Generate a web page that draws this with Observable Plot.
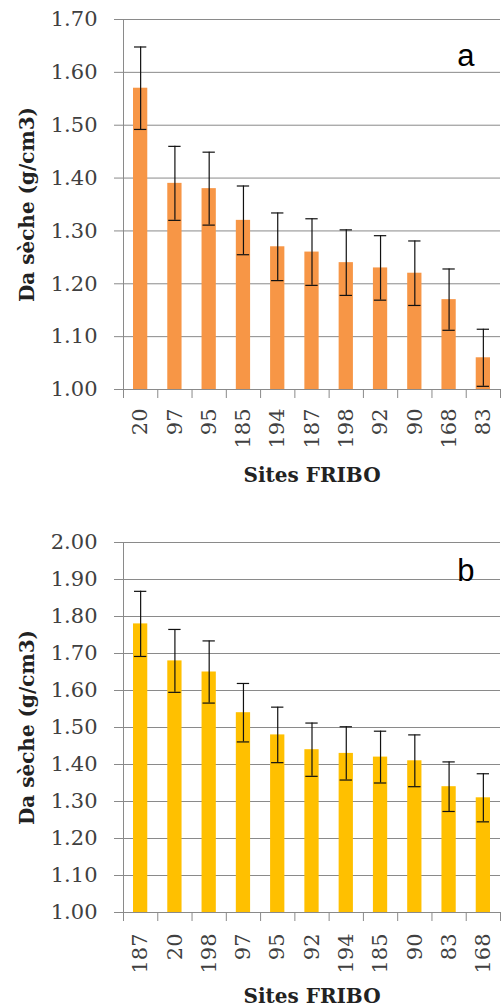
<!DOCTYPE html>
<html>
<head>
<meta charset="utf-8">
<script src="https://cdn.jsdelivr.net/npm/d3@7"></script>
<script src="https://cdn.jsdelivr.net/npm/@observablehq/plot@0.6"></script>
<style>
  html, body { margin: 0; padding: 0; background: #fff; }
  #root svg { display: block; }
</style>
</head>
<body>
<div id="root"></div>
<script>
// Panel a
const sitesA = ["20","97","95","185","194","187","198","92","90","168","83"];
const meanA  = [1.57,1.39,1.38,1.32,1.27,1.26,1.24,1.23,1.22,1.17,1.06];
const errA   = [0.078,0.070,0.069,0.065,0.064,0.063,0.062,0.061,0.061,0.058,0.054];
// Panel b
const sitesB = ["187","20","198","97","95","92","194","185","90","83","168"];
const meanB  = [1.78,1.68,1.65,1.54,1.48,1.44,1.43,1.42,1.41,1.34,1.31];
const errB   = [0.088,0.085,0.084,0.079,0.075,0.072,0.072,0.070,0.070,0.067,0.065];

const yTitle = "Da sèche (g/cm3)";
const xTitle = "Sites FRIBO";

function chart({sites, mean, err, yMin, yMax, fill, letter, height, marginTop, marginBottom, letterDy, titleDy, labelPad}) {
  const data = sites.map((s, i) => ({site: s, i, v: mean[i], e: err[i]}));
  const yTicks = d3.range(Math.round((yMax - yMin) / 0.1) + 1).map(k => +(yMin + k * 0.1).toFixed(2));
  const grid = "#8a8a8a";
  return Plot.plot({
    width: 501,
    height,
    marginLeft: 123,
    marginRight: 1,
    marginTop,
    marginBottom,
    style: {fontFamily: "DejaVu Serif", fontSize: "21px", background: "white", overflow: "visible"},
    x: {type: "linear", domain: [0, sites.length], axis: null},
    y: {domain: [yMin, yMax], axis: null},
    marks: [
      Plot.gridY(yTicks, {stroke: grid, strokeOpacity: 1}),
      Plot.axisY({ticks: yTicks, tickFormat: d3.format(".2f"), tickSize: 9, tickPadding: 17, stroke: grid, fill: "#404040", label: null}),
      Plot.ruleX([0], {stroke: grid}),
      Plot.axisX({ticks: d3.range(sites.length + 1), tickFormat: () => "", tickSize: 9, stroke: grid, label: null}),
      Plot.text(data, {x: d => d.i + 0.5, frameAnchor: "bottom", text: "site", rotate: -90, textAnchor: "end", lineAnchor: "middle", dy: labelPad, fill: "#404040"}),
      Plot.rectY(data, {x1: d => d.i, x2: d => d.i + 1, y1: yMin, y2: "v", insetLeft: 10, insetRight: 10, fill}),
      Plot.ruleX(data, {x: d => d.i + 0.5, y1: d => d.v - d.e, y2: d => d.v + d.e, stroke: "#111", strokeWidth: 1.2}),
      Plot.ruleY(data, {x1: d => d.i + 0.32, x2: d => d.i + 0.68, y: d => d.v + d.e, stroke: "#111", strokeWidth: 1.2}),
      Plot.ruleY(data, {x1: d => d.i + 0.32, x2: d => d.i + 0.68, y: d => d.v - d.e, stroke: "#111", strokeWidth: 1.2}),
      Plot.text([letter], {frameAnchor: "top-right", textAnchor: "end", lineAnchor: "bottom", dx: -26, dy: letterDy, fontFamily: "Liberation Sans", fontSize: 31, fill: "#000"}),
      Plot.text([yTitle], {frameAnchor: "left", rotate: -90, textAnchor: "middle", lineAnchor: "middle", dx: -96, fontWeight: "bold", fontSize: 20, fill: "#222"}),
      Plot.text([xTitle], {frameAnchor: "bottom", textAnchor: "middle", lineAnchor: "middle", dy: titleDy, fontWeight: "bold", fontSize: 20, fill: "#222"})
    ]
  });
}

const root = document.getElementById("root");
root.append(chart({sites: sitesA, mean: meanA, err: errA, yMin: 1.0, yMax: 1.7, fill: "#F79646", letter: "a",
  height: 503, marginTop: 19, marginBottom: 114, letterDy: 46, titleDy: 86, labelPad: 19}));
root.append(chart({sites: sitesB, mean: meanB, err: errB, yMin: 1.0, yMax: 2.0, fill: "#FFC000", letter: "b",
  height: 504, marginTop: 39, marginBottom: 95, letterDy: 38, titleDy: 84, labelPad: 21}));
</script>
</body>
</html>
